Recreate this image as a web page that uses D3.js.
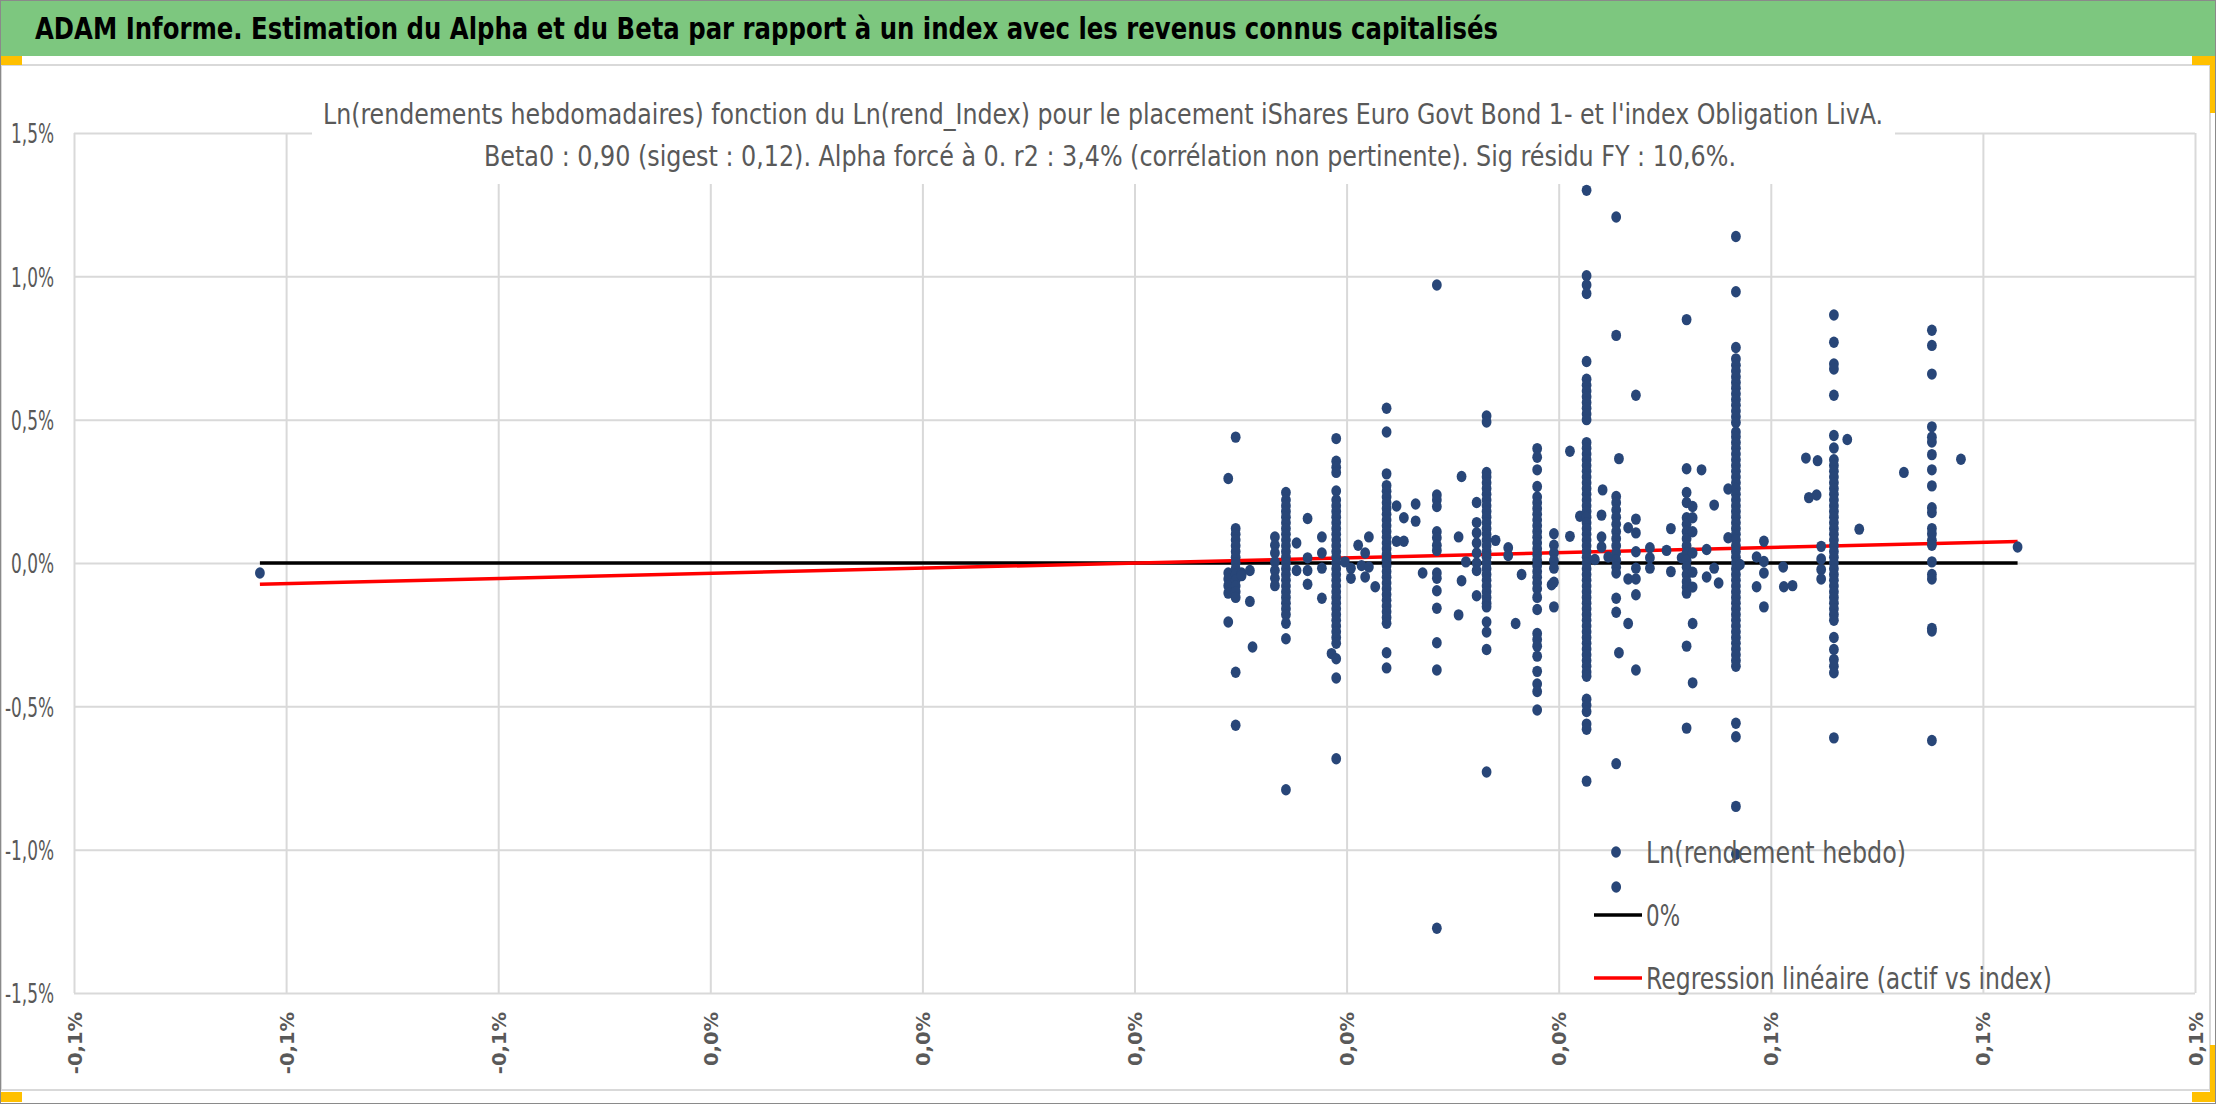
<!DOCTYPE html>
<html>
<head>
<meta charset="utf-8">
<script src="https://cdn.jsdelivr.net/npm/d3@7"></script>
<style>
  body { margin: 0; background: #fff; }
  svg { display: block; }
</style>
</head>
<body>
<div id="chart"></div>
<script>
// ---------- data ----------
const bannerTitle = "ADAM Informe. Estimation du Alpha et du Beta par rapport à un index avec les revenus connus capitalisés";
const chartTitle = [
    "Ln(rendements hebdomadaires) fonction du Ln(rend_Index) pour le placement iShares Euro Govt Bond 1- et l'index Obligation LivA.",
    "Beta0 : 0,90 (sigest : 0,12). Alpha forcé à 0. r2 : 3,4% (corrélation non pertinente). Sig résidu FY : 10,6%."
];
const legendLabels = ["Ln(rendement hebdo)", "0%", "Regression linéaire (actif vs index)"];
const xTicks = [-0.1, -0.08, -0.06, -0.04, -0.02, 0, 0.02, 0.04, 0.06, 0.08, 0.1];
const yTicks = [-1.5, -1, -0.5, 0, 0.5, 1, 1.5];
const beta = 0.90;

// index weekly log return (%) -> asset weekly log returns (%) observed at that index value
const indexX = [
    -0.08247, 0.00884, 0.00954, 0.0101, 0.01088, 0.01113, 0.01324, 0.01428, 0.01528, 0.01632,
    0.01767, 0.01858, 0.01902, 0.01984, 0.02041, 0.02109, 0.02141, 0.02175, 0.0221, 0.0227,
    0.02377, 0.02471, 0.0254, 0.02651, 0.02717, 0.02851, 0.03056, 0.03084, 0.03125, 0.03226,
    0.0332, 0.03405, 0.03524, 0.03594, 0.0365, 0.03797, 0.03933, 0.03955, 0.04106, 0.042,
    0.04263, 0.04341, 0.04404, 0.04414, 0.04467, 0.04542, 0.04568, 0.04655, 0.04728, 0.0486,
    0.05017, 0.05058, 0.05159, 0.05206, 0.05263, 0.05347, 0.05395, 0.05466, 0.05508, 0.05598,
    0.05671, 0.05709, 0.05866, 0.05935, 0.06117, 0.06123, 0.06205, 0.06331, 0.06359, 0.06432,
    0.06441, 0.06475, 0.06595, 0.06721, 0.06834, 0.07255, 0.07519, 0.07793, 0.08327
];
const assetY = [
    [-0.035],
    [0.295, -0.035, -0.056, -0.079, -0.105, -0.206],
    [0.439, 0.12, 0.10, 0.08, 0.06, 0.04, 0.02, 0.0, -0.02, -0.04, -0.06, -0.08, -0.10, -0.12, -0.381, -0.566],
    [-0.035, -0.044],
    [-0.026, -0.134],
    [-0.293],
    [0.091, 0.062, 0.035, 0.004, -0.026, -0.053, -0.079],
    [0.246, 0.22, 0.20, 0.18, 0.16, 0.14, 0.12, 0.10, 0.08, 0.06, 0.04, 0.02, 0.0, -0.02, -0.04, -0.06, -0.08, -0.10, -0.12, -0.14, -0.16, -0.18, -0.21, -0.264, -0.791],
    [0.07, -0.026],
    [0.155, 0.018, -0.026, -0.074],
    [0.091, 0.035, -0.018, -0.123],
    [-0.316],
    [0.434, 0.355, 0.334, 0.316, 0.251, 0.22, 0.20, 0.18, 0.16, 0.14, 0.12, 0.10, 0.08, 0.06, 0.04, 0.02, 0.0, -0.02, -0.04, -0.06, -0.08, -0.10, -0.12, -0.14, -0.16, -0.18, -0.20, -0.22, -0.24, -0.26, -0.28, -0.334, -0.401, -0.683],
    [0.004],
    [-0.018, -0.053],
    [0.062],
    [-0.009],
    [0.035, -0.049],
    [0.091, -0.014],
    [-0.083],
    [0.54, 0.457, 0.311, 0.27, 0.25, 0.23, 0.21, 0.19, 0.17, 0.15, 0.13, 0.11, 0.09, 0.07, 0.05, 0.03, 0.01, -0.01, -0.03, -0.05, -0.07, -0.09, -0.11, -0.13, -0.15, -0.17, -0.19, -0.21, -0.313, -0.366],
    [0.199, 0.076],
    [0.158, 0.076],
    [0.206, 0.146],
    [-0.035],
    [0.97, 0.237, 0.22, 0.197, 0.109, 0.088, 0.062, 0.044, -0.035, -0.053, -0.097, -0.158, -0.278, -0.373, -1.274],
    [0.091, -0.181],
    [0.302, -0.062],
    [0.004],
    [0.211, 0.141, 0.105, 0.07, 0.035, 0.0, -0.026, -0.114],
    [0.513, 0.492, 0.316, 0.30, 0.28, 0.26, 0.24, 0.22, 0.20, 0.18, 0.16, 0.14, 0.12, 0.10, 0.08, 0.06, 0.04, 0.02, 0.0, -0.02, -0.04, -0.06, -0.08, -0.10, -0.12, -0.14, -0.153, -0.206, -0.241, -0.302, -0.729],
    [0.079],
    [0.053, 0.026],
    [-0.211],
    [-0.04],
    [0.399, 0.369, 0.325, 0.267, 0.23, 0.21, 0.19, 0.17, 0.15, 0.13, 0.11, 0.09, 0.07, 0.05, 0.03, 0.01, -0.01, -0.03, -0.05, -0.07, -0.09, -0.12, -0.162, -0.246, -0.267, -0.29, -0.325, -0.378, -0.422, -0.448, -0.513],
    [-0.076],
    [0.102, 0.062, 0.035, 0.009, -0.018, -0.067, -0.153],
    [0.39, 0.093],
    [0.163],
    [1.30, 1.002, 0.97, 0.94, 0.703, 0.641, 0.62, 0.60, 0.58, 0.56, 0.54, 0.52, 0.50,
     0.42, 0.40, 0.38, 0.36, 0.34, 0.32, 0.30, 0.28, 0.26, 0.24, 0.22, 0.20, 0.18, 0.16, 0.14, 0.12, 0.10, 0.08, 0.06, 0.04, 0.02, 0.0,
     -0.02, -0.04, -0.06, -0.08, -0.10, -0.12, -0.14, -0.16, -0.18, -0.20, -0.22, -0.24, -0.26, -0.28, -0.30, -0.32, -0.34, -0.36, -0.38, -0.395,
     -0.475, -0.496, -0.518, -0.562, -0.58, -0.761],
    [0.012],
    [0.167, 0.091, 0.056],
    [0.255],
    [0.021],
    [1.207, 0.794, 0.232, 0.21, 0.185, 0.16, 0.135, 0.11, 0.085, 0.06, 0.035, 0.01, -0.015, -0.035, -0.123, -0.172, -0.70, -1.13],
    [0.364, -0.313],
    [0.123, -0.056, -0.211],
    [0.585, 0.153, 0.105, 0.039, -0.018, -0.056, -0.111, -0.373],
    [0.053, 0.018, -0.018],
    [0.044],
    [0.12, -0.03],
    [0.018],
    [0.849, 0.329, 0.246, 0.211, 0.158, 0.135, 0.11, 0.085, 0.06, 0.035, 0.01, -0.015, -0.04, -0.065, -0.085, -0.105, -0.29, -0.576],
    [0.197, 0.158, 0.109, 0.035, -0.032, -0.084, -0.211, -0.418],
    [0.325],
    [0.047, -0.049],
    [0.202, -0.018],
    [-0.07],
    [0.258, 0.088],
    [1.139, 0.946, 0.752, 0.712, 0.69, 0.67, 0.65, 0.63, 0.61, 0.59, 0.57, 0.55, 0.53, 0.51, 0.49,
     0.457, 0.44, 0.42, 0.40, 0.38, 0.36, 0.34, 0.32, 0.30, 0.28, 0.26, 0.24, 0.22, 0.20, 0.18, 0.16, 0.14, 0.12, 0.10, 0.08, 0.06, 0.04, 0.02, 0.0,
     -0.02, -0.04, -0.06, -0.08, -0.10, -0.12, -0.14, -0.16, -0.18, -0.20, -0.22, -0.24, -0.26, -0.28, -0.30, -0.32, -0.34, -0.36,
     -0.559, -0.606, -0.849, -1.016],
    [-0.005],
    [0.021, -0.083],
    [0.076, 0.005, -0.035, -0.153],
    [-0.014],
    [-0.083],
    [-0.079],
    [0.366],
    [0.228],
    [0.237],
    [0.357],
    [0.058, 0.014, -0.023, -0.056],
    [0.865, 0.77, 0.694, 0.677, 0.585, 0.445, 0.401,
     0.36, 0.34, 0.32, 0.30, 0.28, 0.26, 0.24, 0.22, 0.20, 0.18, 0.16, 0.14, 0.12, 0.10, 0.08, 0.06, 0.04, 0.02, 0.0,
     -0.02, -0.04, -0.06, -0.08, -0.10, -0.12, -0.14, -0.16, -0.18, -0.20, -0.26, -0.302, -0.337, -0.36, -0.383, -0.61],
    [0.431],
    [0.118],
    [0.316],
    [0.812, 0.759, 0.659, 0.475, 0.439, 0.422, 0.378, 0.325, 0.269, 0.193, 0.176, 0.12, 0.102, 0.079, 0.062, 0.004, -0.04, -0.056, -0.228, -0.237, -0.619],
    [0.362],
    [0.056]
];

// ---------- drawing ----------
const W = 2216, H = 1104;
const plot = { left: 74, right: 2195, top: 133, bottom: 993 };
const grey = "#595959";
const narrow = "'Liberation Sans Narrow','Arial Narrow','DejaVu Sans Condensed','Liberation Sans',Arial,sans-serif";

let points = [];
indexX.forEach(function(xv, i) {
    assetY[i].forEach(function(yv) { points.push({ x: xv, y: yv }); });
});

let fr = d3.formatLocale({ decimal: ",", thousands: "\u00a0", grouping: [3], currency: ["", "\u00a0€"], minus: "-" });
let pct = function(d) { return fr.format(".1f")(d) + "%"; };

let svg = d3.select("#chart").append("svg")
    .attr("width", W)
    .attr("height", H);

// banner
svg.append("rect").attr("x", 0).attr("y", 0).attr("width", W).attr("height", 56).attr("fill", "#7dc77f");
svg.append("text")
    .attr("x", 35).attr("y", 39)
    .attr("font-family", narrow)
    .attr("font-size", 31)
    .attr("font-weight", "bold")
    .attr("fill", "#000")
    .attr("textLength", 1463)
    .attr("lengthAdjust", "spacingAndGlyphs")
    .text(bannerTitle);

// chart area
svg.append("rect")
    .attr("x", 1).attr("y", 65).attr("width", 2209).attr("height", 1025)
    .attr("fill", "#fff").attr("stroke", "#d9d9d9").attr("stroke-width", 2);

let x = d3.scaleLinear().domain([xTicks[0], xTicks[xTicks.length - 1]]).range([plot.left, plot.right]);
let y = d3.scaleLinear().domain([yTicks[0], yTicks[yTicks.length - 1]]).range([plot.bottom, plot.top]);

// gridlines + tick labels
let xAx = svg.append("g")
    .attr("transform", "translate(0," + plot.bottom + ")")
    .call(d3.axisBottom(x).tickValues(xTicks).tickSize(-(plot.bottom - plot.top)).tickFormat(pct));
let yAx = svg.append("g")
    .attr("transform", "translate(" + plot.left + ",0)")
    .call(d3.axisLeft(y).tickValues(yTicks).tickSize(-(plot.right - plot.left)).tickFormat(pct));

[xAx, yAx].forEach(function(ax) {
    ax.select(".domain").remove();
    ax.selectAll(".tick line").attr("stroke", "#d9d9d9").attr("stroke-width", 2);
});

xAx.selectAll(".tick text")
    .attr("transform", "rotate(-90)")
    .attr("x", -19)
    .attr("y", 0)
    .attr("dy", "0.36em")
    .attr("text-anchor", "end")
    .attr("font-family", "'DejaVu Sans',Verdana,sans-serif")
    .attr("font-weight", "bold")
    .attr("font-size", 19.5)
    .attr("fill", grey);

let yText = yAx.selectAll(".tick text")
    .attr("x", -20)
    .attr("dy", "0.36em")
    .attr("font-family", narrow)
    .attr("font-size", 27)
    .attr("fill", grey);
// squeeze y labels the way the reference renders them ("0,0%" is ~43px wide)
let zeroLab = yText.filter(function(d) { return d === 0; }).node();
let squeeze = 43 / zeroLab.getComputedTextLength();
yText.each(function() {
    d3.select(this)
        .attr("textLength", this.getComputedTextLength() * squeeze)
        .attr("lengthAdjust", "spacingAndGlyphs");
});

// title box sits over the top of the grid
svg.append("rect")
    .attr("x", 312).attr("y", 70).attr("width", 1583).attr("height", 114)
    .attr("fill", "#fff");
let titleWidths = [1560, 1252];
let titleCenter = [1103, 1110];
let titleBase = [124, 166];
chartTitle.forEach(function(t, i) {
    svg.append("text")
        .attr("x", titleCenter[i]).attr("y", titleBase[i])
        .attr("text-anchor", "middle")
        .attr("font-family", narrow)
        .attr("font-size", 28)
        .attr("fill", grey)
        .attr("textLength", titleWidths[i])
        .attr("lengthAdjust", "spacingAndGlyphs")
        .text(t);
});

// zero line and regression line over the index range
let xExt = d3.extent(indexX);
svg.append("line")
    .attr("x1", x(xExt[0])).attr("x2", x(xExt[1]))
    .attr("y1", y(0)).attr("y2", y(0))
    .attr("stroke", "#000").attr("stroke-width", 3.5);
svg.append("line")
    .attr("x1", x(xExt[0])).attr("x2", x(xExt[1]))
    .attr("y1", y(beta * xExt[0])).attr("y2", y(beta * xExt[1]))
    .attr("stroke", "#ff0000").attr("stroke-width", 3.5);

// scatter
svg.append("g").selectAll("ellipse")
    .data(points)
    .enter()
    .append("ellipse")
    .attr("cx", function(d) { return x(d.x); })
    .attr("cy", function(d) { return y(d.y); })
    .attr("rx", 4.9)
    .attr("ry", 5.7)
    .attr("fill", "#284678");

// legend
let lg = svg.append("g").attr("transform", "translate(1594,852)");
let legendWidths = [260, 34, 406];
legendLabels.forEach(function(t, i) {
    let row = lg.append("g").attr("transform", "translate(0," + (i * 63) + ")");
    if (i === 0) {
        row.append("ellipse").attr("cx", 22).attr("cy", 0).attr("rx", 4.9).attr("ry", 5.7).attr("fill", "#284678");
    } else {
        row.append("line").attr("x1", 0).attr("x2", 48).attr("y1", 0).attr("y2", 0)
            .attr("stroke", i === 1 ? "#000" : "#ff0000").attr("stroke-width", 3.5);
    }
    row.append("text")
        .attr("x", 52).attr("y", 0).attr("dy", "0.36em")
        .attr("font-family", narrow)
        .attr("font-size", 30)
        .attr("fill", grey)
        .attr("textLength", legendWidths[i])
        .attr("lengthAdjust", "spacingAndGlyphs")
        .text(t);
});

// selection handles and outer frame
let handles = [
    [0, 56, 22, 9], [2192, 56, 24, 9], [2210, 56, 6, 57],
    [0, 1092, 22, 10], [2192, 1092, 24, 10], [2210, 1045, 6, 57]
];
svg.append("g").selectAll("rect")
    .data(handles)
    .enter()
    .append("rect")
    .attr("x", function(d) { return d[0]; })
    .attr("y", function(d) { return d[1]; })
    .attr("width", function(d) { return d[2]; })
    .attr("height", function(d) { return d[3]; })
    .attr("fill", "#ffc000");
svg.append("rect")
    .attr("x", 0.5).attr("y", 0.5).attr("width", W - 1).attr("height", H - 1)
    .attr("fill", "none").attr("stroke", "#8a8a8a").attr("stroke-width", 1);
</script>
</body>
</html>
